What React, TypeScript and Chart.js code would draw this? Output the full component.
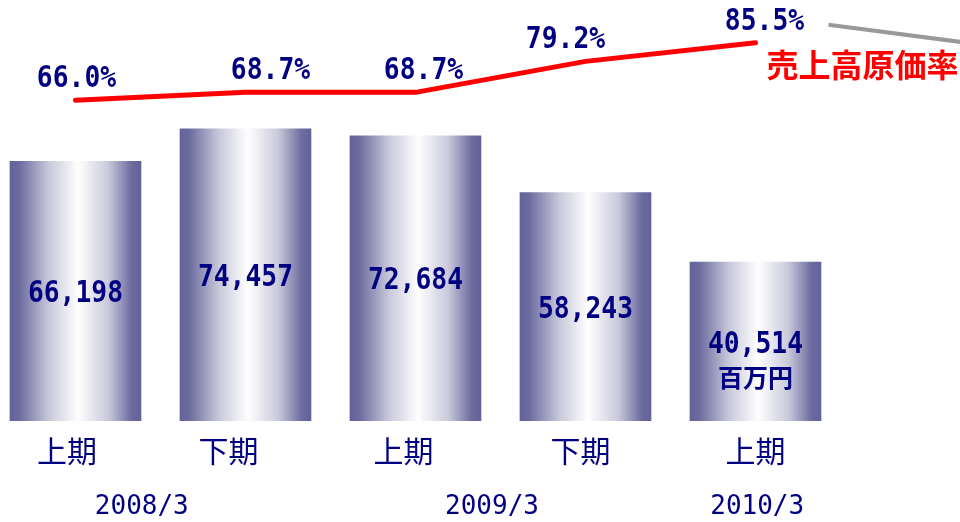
import React, { useEffect, useRef } from "react";
import { Chart, registerables } from "chart.js";

Chart.register(...registerables);

// ---- data ----
const periods = ["上期", "下期", "上期", "下期", "上期"];
const sales = [66198, 74457, 72684, 58243, 40514];
const costRatio = [66.0, 68.7, 68.7, 79.2, 85.5];
const years = ["2008/3", "2009/3", "2010/3"];
const yearPos = [0.39, 2.45, 4.01];
const periodPos = [-0.05, 0.9, 1.93, 2.97, 4.0];
const ratioLabelDx = [1, 25, 8, -20, 9];
const unitLabel = "百万円";
const seriesName = "売上高原価率";

const NAVY = "#000080";
const RED = "#ff0000";
const X_MIN = -0.444;
const X_MAX = 5.203;
const BAR_W = 131;

function drawScaled(ctx: CanvasRenderingContext2D, text: string, x: number, y: number, font: string, sx: number, color: string) {
  ctx.save();
  ctx.translate(x, y);
  ctx.scale(sx, 1);
  ctx.font = font;
  ctx.fillStyle = color;
  ctx.textAlign = "center";
  ctx.textBaseline = "middle";
  ctx.fillText(text, 0, 0);
  ctx.restore();
}

const labelPlugin = {
  id: "customLabels",
  afterDatasetsDraw(chart: any) {
    const ctx: CanvasRenderingContext2D = chart.ctx;
    const lineMeta = chart.getDatasetMeta(0);
    const barMeta = chart.getDatasetMeta(1);
    const numFont = "bold 31px 'DejaVu Sans Mono'";

    barMeta.data.forEach((bar: any, i: number) => {
      const { x, y, base } = bar.getProps(["x", "y", "base"], true);
      const cy = (y + base) / 2 + 3;
      drawScaled(ctx, sales[i].toLocaleString("en-US"), x, cy, numFont, 0.85, NAVY);
      if (i === sales.length - 1) {
        ctx.save();
        ctx.font = "bold 25px 'Noto Sans CJK JP'";
        ctx.fillStyle = NAVY;
        ctx.textAlign = "center";
        ctx.textBaseline = "middle";
        ctx.fillText(unitLabel, x, cy + 33);
        ctx.restore();
      }
    });

    lineMeta.data.forEach((pt: any, i: number) => {
      const { x, y } = pt.getProps(["x", "y"], true);
      drawScaled(ctx, costRatio[i].toFixed(1) + "%", x + ratioLabelDx[i], y - 21, numFont, 0.85, NAVY);
    });

    const last = lineMeta.data[lineMeta.data.length - 1];
    const lx = last.x;
    const ly = last.y;
    ctx.save();
    ctx.strokeStyle = "#999999";
    ctx.lineWidth = 4;
    ctx.beginPath();
    const sx = lx + 73;
    const sy = ly - 18;
    ctx.moveTo(sx, sy);
    ctx.lineTo(chart.width + 10, sy + (chart.width + 10 - sx) * 0.13);
    ctx.stroke();
    ctx.fillStyle = RED;
    ctx.font = "bold 32px 'Noto Sans CJK JP'";
    ctx.textAlign = "center";
    ctx.textBaseline = "middle";
    ctx.fillText(seriesName, lx + 107, ly + 22);
    ctx.restore();
  },
};

function barGradient(context: any) {
  const chart = context.chart;
  const xs = chart.scales && chart.scales.x;
  if (!chart.chartArea || !xs || context.parsed == null) return "#6a6a9e";
  const cx = xs.getPixelForValue(context.parsed.x);
  const w = BAR_W;
  const g = chart.ctx.createLinearGradient(cx - w / 2, 0, cx + w / 2, 0);
  g.addColorStop(0, "#63639a");
  g.addColorStop(0.07, "#6b6b9f");
  g.addColorStop(0.3, "#c9c9db");
  g.addColorStop(0.52, "#ffffff");
  g.addColorStop(0.75, "#c9c9db");
  g.addColorStop(0.93, "#6b6b9f");
  g.addColorStop(1, "#63639a");
  return g;
}

export default function App() {
  const ref = useRef<HTMLCanvasElement>(null);

  useEffect(() => {
    if (!ref.current) return;
    const chart = new Chart(ref.current, {
      type: "bar",
      data: {
        datasets: [
          {
            type: "line",
            label: seriesName,
            data: costRatio.map((v, i) => ({ x: i, y: v })),
            xAxisID: "x",
            yAxisID: "y2",
            borderColor: RED,
            borderWidth: 5,
            pointRadius: 0,
            tension: 0,
            borderCapStyle: "round",
            borderJoinStyle: "round",
            fill: false,
          } as any,
          {
            type: "bar",
            label: "売上高",
            data: sales.map((v, i) => ({ x: i, y: v })),
            xAxisID: "x",
            yAxisID: "y",
            backgroundColor: barGradient,
            borderWidth: 0,
            barThickness: BAR_W,
          } as any,
        ],
      },
      options: {
        animation: false,
        responsive: false,
        devicePixelRatio: 1,
        layout: { padding: 0, autoPadding: false },
        plugins: { legend: { display: false }, tooltip: { enabled: false } },
        scales: {
          x: {
            type: "linear",
            position: "bottom",
            offset: false,
            min: X_MIN,
            max: X_MAX,
            grid: { display: false, drawTicks: false, offset: false },
            border: { display: false },
            afterBuildTicks: (s: any) => {
              s.ticks = periodPos.map((v) => ({ value: v }));
            },
            afterFit: (s: any) => {
              s.height = 60;
            },
            ticks: {
              autoSkip: false,
              maxRotation: 0,
              padding: 12,
              color: NAVY,
              font: { family: "'Noto Sans CJK JP'", size: 30 },
              callback: (_v: any, i: number) => periods[i],
            },
          },
          x2: {
            type: "linear",
            position: "bottom",
            offset: false,
            min: X_MIN,
            max: X_MAX,
            grid: { display: false, drawTicks: false, offset: false },
            border: { display: false },
            afterBuildTicks: (s: any) => {
              s.ticks = yearPos.map((v) => ({ value: v }));
            },
            afterFit: (s: any) => {
              s.height = 41;
            },
            ticks: {
              autoSkip: false,
              maxRotation: 0,
              padding: 11,
              color: NAVY,
              font: { family: "'DejaVu Sans Mono'", size: 26 },
              callback: (_v: any, i: number) => years[i],
            },
          },
          y: { display: false, min: 0, max: 107300 },
          y2: { display: false, min: -42.7, max: 100 },
        },
      } as any,
      plugins: [labelPlugin],
    });
    return () => chart.destroy();
  }, []);

  return (
    <div style={{ position: "absolute", left: 0, top: 0, width: 960, height: 522, background: "#ffffff" }}>
      <canvas ref={ref} width={960} height={522} />
    </div>
  );
}
